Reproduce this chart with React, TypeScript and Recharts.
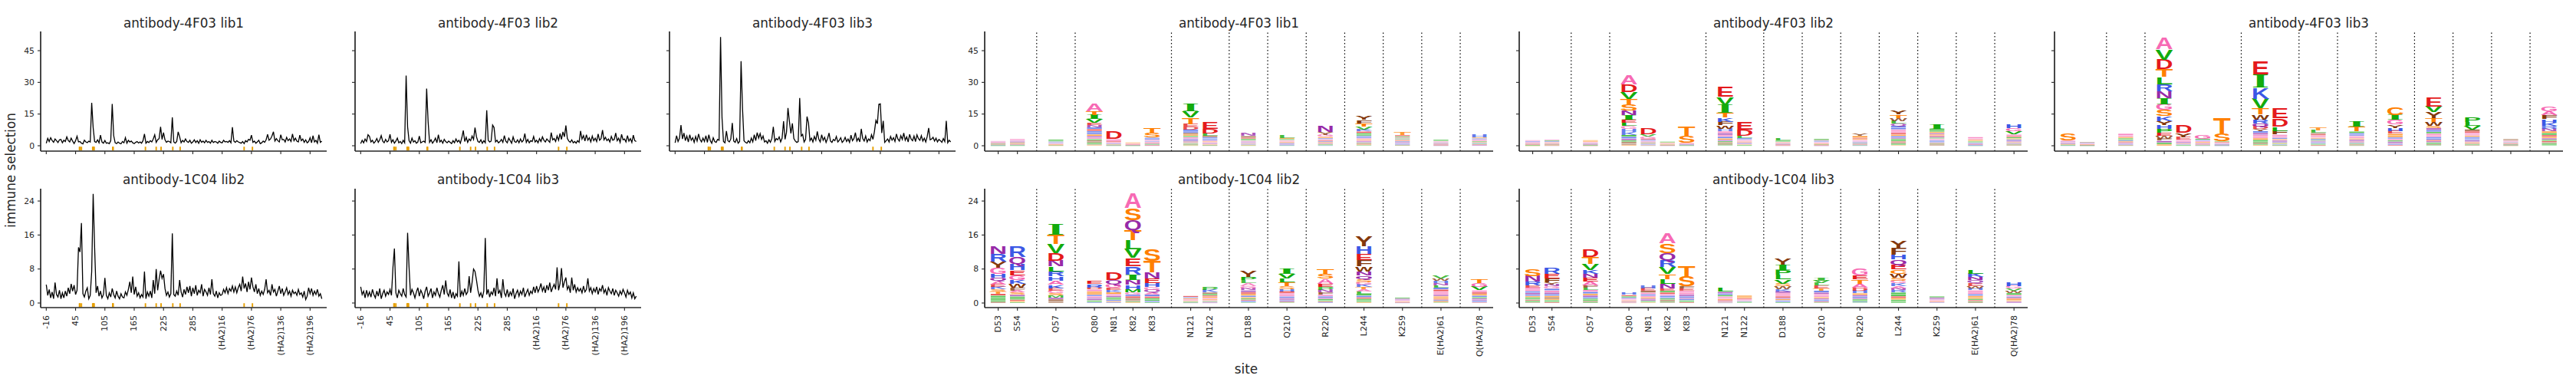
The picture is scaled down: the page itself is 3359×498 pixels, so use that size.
import React from "react";
import {
  LineChart,
  Line,
  BarChart,
  Bar,
  XAxis,
  YAxis,
  ReferenceArea,
  ReferenceLine,
} from "recharts";

const INK = "#262626";
const FONT = "DejaVu Sans, sans-serif";
const LETTER_FONT = "Liberation Sans, Arial, sans-serif";
const SERIF_FONT = "Liberation Serif, serif";

// ---------- line plots: immune selection along HA, every 3rd site ----------
const SITE_STEP = 3;
const lineTicks = [0, 60, 120, 180, 240, 300, 360, 420, 480, 540];
const lineTickLabels = ["-16", "45", "105", "165", "225", "285", "(HA2)16", "(HA2)76", "(HA2)136", "(HA2)196"];
// sequential index of the sites shown in the logo plots (orange marks)
const zoomedSiteIndex = [68, 69, 72, 95, 96, 97, 98, 136, 137, 203, 225, 235, 259, 274, 405, 422];

const topTicks = [0, 15, 30, 45];
const bottomTicks = [0, 8, 16, 24];

const sel4F03lib1 = [
  1.2, 3.5, 2.0, 3.8, 2.5, 1.6, 3.2, 2.4, 1.5, 2.8,
  3.0, 1.4, 2.6, 2.0, 4.2, 2.5, 1.8, 3.6, 2.2, 1.0,
  2.4, 4.5, 1.8, 2.0, 1.2, 0.9, 2.6, 1.8, 1.5, 2.2,
  1.8, 20.3, 8.5, 2.0, 1.6, 2.8, 1.4, 5.0, 1.8, 1.2,
  2.5, 1.2, 1.4, 1.0, 2.4, 19.8, 4.8, 1.4, 1.0, 1.8,
  1.2, 0.9, 2.0, 1.4, 3.8, 1.2, 2.6, 1.8, 2.2, 1.4,
  1.0, 1.6, 2.0, 1.3, 1.8, 1.2, 2.4, 5.6, 1.2, 2.0,
  1.5, 2.4, 1.8, 3.2, 5.2, 1.6, 2.8, 3.4, 9.0, 3.0,
  6.2, 2.8, 1.6, 2.2, 2.0, 1.4, 13.4, 1.8, 1.2, 2.0,
  6.6, 4.2, 1.4, 2.5, 1.8, 3.2, 2.0, 1.6, 2.6, 1.2,
  1.8, 2.8, 1.5, 2.4, 1.2, 2.8, 1.6, 2.2, 1.4, 2.6,
  1.6, 2.0, 1.2, 2.6, 1.5, 2.0, 1.8, 1.2, 2.2, 1.6,
  1.4, 2.6, 1.8, 2.0, 1.6, 2.4, 1.4, 8.8, 2.2, 1.6,
  2.4, 1.8, 1.5, 1.2, 2.0, 1.0, 2.4, 1.8, 3.0, 2.6,
  5.0, 1.6, 2.2, 1.2, 1.8, 2.6, 1.0, 1.4, 2.2, 1.6,
  2.8, 5.4, 2.6, 3.2, 4.6, 6.6, 2.2, 3.4, 2.4, 1.8,
  5.2, 2.8, 3.0, 1.8, 4.0, 2.4, 3.2, 2.0, 5.6, 2.4,
  3.6, 2.2, 1.8, 5.0, 2.4, 3.2, 1.6, 2.8, 1.4, 2.0,
  3.8, 1.4, 4.8, 1.8, 2.6, 1.2, 5.2, 1.6, 2.2,
];

const sel4F03lib2 = [
  1.0, 2.6, 1.4, 3.2, 2.0, 5.2, 4.4, 1.8, 2.6, 1.2,
  2.0, 3.4, 1.6, 2.8, 4.8, 2.2, 1.4, 3.0, 1.8, 2.4,
  5.4, 1.6, 2.8, 1.2, 2.2, 3.6, 1.4, 2.0, 1.0, 2.6,
  1.4, 33.2, 9.0, 2.4, 1.2, 3.6, 1.8, 2.4, 1.2, 1.8,
  4.6, 1.4, 1.8, 2.2, 1.6, 27.0, 11.4, 1.6, 2.8, 1.2,
  2.2, 3.6, 1.4, 5.2, 1.8, 2.6, 1.2, 3.0, 2.0, 1.4,
  2.2, 1.6, 1.0, 2.4, 1.4, 3.2, 1.8, 2.6, 1.2, 3.8,
  7.2, 2.0, 4.0, 1.6, 3.2, 2.4, 4.6, 3.0, 8.6, 4.2,
  2.0, 1.6, 2.8, 1.2, 2.4, 1.4, 16.8, 2.6, 1.8, 2.2,
  9.8, 8.6, 1.8, 2.6, 1.4, 2.0, 3.0, 1.6, 4.8, 2.2,
  1.4, 3.6, 2.4, 1.2, 4.2, 2.0, 1.6, 2.8, 1.4, 3.2,
  1.8, 2.6, 5.8, 1.6, 3.0, 1.4, 2.4, 2.0, 4.4, 1.8,
  2.6, 1.4, 3.4, 2.0, 4.2, 2.6, 1.8, 3.2, 2.4, 1.6,
  6.2, 2.8, 3.4, 2.0, 4.6, 2.6, 5.8, 3.0, 6.6, 4.2,
  9.6, 3.4, 2.2, 1.6, 2.8, 1.4, 2.0, 1.2, 2.4, 1.6,
  7.0, 3.2, 4.8, 2.2, 5.2, 2.6, 3.8, 1.8, 4.6, 2.4,
  3.6, 2.0, 5.6, 2.6, 3.4, 7.4, 2.8, 4.0, 2.4, 3.2,
  1.8, 4.4, 2.6, 3.0, 6.0, 2.4, 3.6, 1.6, 5.4, 2.8,
  3.2, 1.8, 4.8, 2.2, 3.4, 1.6, 5.0, 2.4, 2.0,
];

const sel4F03lib3 = [
  1.4, 4.8, 2.0, 3.6, 9.8, 3.2, 6.0, 2.4, 4.6, 1.8,
  5.2, 2.6, 3.8, 1.6, 4.4, 2.2, 5.6, 3.0, 1.8, 3.6,
  2.0, 4.8, 1.6, 5.2, 2.4, 1.2, 3.8, 2.0, 1.6, 3.0,
  2.6, 51.5, 13.2, 2.0, 1.4, 7.0, 2.4, 1.8, 3.2, 10.8,
  2.2, 1.6, 3.4, 1.2, 2.0, 40.0, 17.4, 2.4, 1.6, 1.2,
  2.4, 1.4, 3.6, 1.8, 5.2, 2.4, 6.2, 3.6, 5.8, 3.0,
  4.6, 1.8, 2.4, 1.2, 2.8, 1.6, 3.4, 9.0, 2.0, 3.4,
  2.8, 4.2, 1.8, 3.6, 11.6, 3.0, 6.4, 17.9, 11.4, 5.8,
  10.6, 3.4, 2.2, 1.6, 2.0, 22.6, 4.6, 5.4, 1.8, 3.0,
  13.8, 10.8, 2.4, 3.6, 1.8, 4.4, 2.6, 6.8, 3.2, 1.8,
  5.2, 2.6, 4.0, 1.6, 3.4, 6.0, 2.2, 1.6, 3.0, 2.4,
  4.4, 1.8, 2.6, 3.8, 1.6, 2.4, 4.0, 2.0, 3.2, 1.6,
  5.0, 2.4, 3.4, 6.2, 2.2, 3.6, 1.8, 8.0, 3.4, 2.2,
  4.6, 1.8, 3.2, 2.4, 5.2, 3.0, 6.8, 12.0, 10.4, 19.6,
  19.8, 6.0, 11.8, 1.6, 2.4, 3.2, 1.8, 4.4, 2.6, 3.8,
  2.0, 5.6, 3.2, 2.2, 4.8, 3.0, 6.0, 2.6, 4.2, 1.8,
  5.4, 3.2, 2.4, 4.6, 2.0, 5.2, 3.4, 2.6, 4.8, 2.2,
  3.6, 1.8, 4.4, 8.4, 2.8, 3.2, 4.0, 2.2, 3.6, 1.8,
  3.0, 2.4, 1.6, 3.4, 2.0, 11.8, 1.4, 2.6, 1.8,
];

const sel1C04lib2 = [
  4.3, 1.8, 3.2, 1.2, 2.6, 1.0, 4.8, 2.0, 1.4, 3.0,
  1.0, 2.4, 1.2, 2.8, 1.6, 3.6, 2.2, 4.5, 2.8, 4.2,
  2.0, 3.0, 13.1, 12.0, 18.8, 2.2, 1.4, 2.8, 3.6, 1.0,
  1.8, 7.4, 25.7, 13.0, 2.4, 4.0, 1.6, 2.8, 1.2, 2.0,
  5.9, 1.8, 1.0, 2.4, 1.4, 3.4, 2.0, 1.2, 2.8, 1.6,
  1.0, 2.2, 1.4, 1.2, 2.6, 1.8, 3.2, 5.0, 2.4, 6.2,
  2.0, 3.8, 1.6, 2.4, 1.2, 2.0, 1.4, 7.4, 1.0, 2.6,
  1.6, 2.8, 1.2, 5.4, 2.2, 8.0, 3.0, 5.6, 7.6, 5.8,
  6.8, 3.4, 1.8, 2.6, 1.4, 2.2, 16.4, 2.0, 1.6, 2.8,
  1.8, 5.4, 2.6, 1.4, 3.2, 2.0, 3.8, 2.4, 4.0, 1.6,
  3.6, 2.2, 4.2, 1.8, 3.0, 2.4, 4.4, 1.6, 3.2, 2.6,
  1.8, 3.6, 2.0, 5.6, 2.2, 1.6, 2.8, 1.2, 2.4, 1.8,
  2.0, 3.2, 2.4, 3.6, 2.2, 3.4, 2.8, 4.0, 2.6, 3.8,
  2.4, 3.6, 4.4, 2.8, 6.2, 3.4, 4.6, 2.6, 5.0, 3.2,
  6.0, 3.8, 2.6, 4.4, 2.2, 3.4, 1.8, 2.8, 2.0, 3.2,
  5.6, 2.4, 3.0, 1.8, 4.4, 2.6, 3.2, 1.6, 2.8, 4.0,
  2.2, 3.4, 1.8, 2.6, 3.6, 2.0, 2.8, 1.6, 3.0, 2.2,
  2.6, 1.8, 3.2, 2.0, 2.4, 1.4, 2.8, 0.8, 1.6, 3.6,
  2.2, 3.4, 1.8, 2.8, 2.0, 3.2, 1.6, 2.2, 1.0,
];

const sel1C04lib3 = [
  3.8, 2.0, 2.8, 1.2, 3.0, 1.6, 2.6, 1.4, 3.2, 2.0,
  1.2, 2.8, 1.6, 3.4, 1.0, 2.2, 3.0, 1.6, 2.6, 2.0,
  3.2, 1.8, 8.3, 12.8, 2.4, 1.2, 3.0, 2.2, 1.6, 3.4,
  2.0, 1.4, 16.5, 8.4, 1.8, 3.2, 2.4, 1.2, 2.6, 3.6,
  1.6, 3.0, 2.2, 1.0, 2.8, 3.8, 1.6, 2.4, 3.4, 1.2,
  2.6, 1.8, 3.6, 2.2, 1.4, 3.0, 4.2, 2.0, 5.3, 2.4,
  1.6, 3.2, 1.2, 2.6, 1.0, 2.2, 1.6, 9.8, 1.4, 2.8,
  1.8, 3.4, 2.0, 2.6, 6.3, 2.4, 4.8, 8.0, 7.4, 5.4,
  3.0, 1.6, 2.4, 1.2, 2.8, 15.3, 2.0, 3.2, 1.4, 2.6,
  2.0, 3.6, 1.6, 5.8, 2.2, 3.0, 1.2, 5.6, 2.4, 1.6,
  3.2, 1.4, 2.6, 1.8, 3.4, 1.0, 2.2, 3.0, 1.6, 2.8,
  2.0, 3.6, 1.4, 2.4, 3.2, 1.8, 2.8, 2.2, 3.8, 2.4,
  4.0, 2.6, 3.4, 4.6, 2.8, 3.8, 2.4, 4.2, 3.0, 4.8,
  2.6, 3.6, 4.4, 3.2, 8.4, 3.0, 4.6, 8.2, 3.6, 5.0,
  6.0, 3.2, 4.0, 2.4, 6.0, 3.0, 4.4, 2.6, 3.6, 2.8,
  3.4, 2.4, 4.0, 2.6, 3.2, 5.8, 2.8, 3.6, 2.2, 3.4,
  2.6, 3.8, 2.0, 3.4, 2.8, 4.2, 2.4, 3.2, 1.8, 3.6,
  2.8, 2.2, 3.4, 1.8, 3.0, 2.4, 1.6, 2.8, 2.0, 3.2,
  2.4, 1.4, 3.0, 2.0, 2.6, 1.2, 2.4, 1.0, 1.6,
];

// ---------- logo plots: per-site amino-acid selection (letter + height) ----------
const logoSites = ["D53", "S54", "Q57", "Q80", "N81", "K82", "K83", "N121", "N122", "D188", "Q210", "R220", "L244", "K259", "E(HA2)61", "Q(HA2)78"];
const logoSlots = [0, 1, 3, 5, 6, 7, 8, 10, 11, 13, 15, 17, 19, 21, 23, 25];
const logoDividers = [2, 4, 9, 12, 14, 16, 18, 20, 22, 24];

const logo4F03lib1 = [
  "G.35 N.3 A.3 E.25 M.25 Q.2 S.2 V.2 K.15 L.1",
  "G.45 A.45 Q.4 N.35 W.3 F.3 S.25 E.25 K.2 V.2 L.15",
  "V.6 L.4 K.35 A.3 R.3 G.25 S.25 E.2 I.2 T.15",
  "A3.9 T1.8 I1.8 V1.8 E1.1 N1.1 R.9 D.9 K.8 H.8 S.8 Q.7 G.7 L.6 Y.6 F.5 P.5 M.4 W.3 C.3",
  "D3.6 G.9 E.5 A.4 Q.3 K.3 S.2 L.2 N.15 V.15",
  "S.3 T.25 A.25 G.2 E.2 Q.15 V.15 L.1",
  "T2.4 S2.4 H.6 K.5 A.5 R.4 G.4 E.3 N.3 V.3 L.2 D.2 Q.2",
  "I3.6 V3.0 T3.0 E1.3 D1.2 K.9 R.8 W.7 S.7 L.6 A.6 N.5 H.5 Q.5 Y.4 G.4 M.4 F.3 P.3 C.2",
  "E3.4 D2.3 L1.0 W.7 K.6 R.5 H.5 A.4 S.4 G.4 Q.3 N.3 T.3 V.2 Y.2",
  "N1.2 Y.7 E.6 L.5 V.4 G.4 Q.4 A.35 K.3 S.3 H.25 T.2 M.2",
  "L1.3 T.6 V.5 A.4 G.4 S.35 E.3 K.3 R.3 N.25 H.2 M.2",
  "N2.7 Y1.2 G1.0 T.6 K.5 A.5 E.4 H.4 S.4 Q.3 D.3 L.3 V.3 R.2",
  "Y1.8 F1.6 T1.5 V1.4 K1.0 E.8 L.7 I.6 R.6 H.5 A.5 S.5 G.4 N.4 Q.3 M.3 D.3 W.3 C.3 P.3",
  "T1.2 E.6 L.5 G.5 V.5 A.45 S.4 K.4 N.35 Q.3 H.3 R.3 D.25 M.25",
  "V.45 L.35 G.35 A.3 K.3 S.25 Q.25 N.2 T.2 E.2 H.15",
  "H1.2 T.5 K.5 A.45 G.4 V.4 S.35 R.35 L.3 E.25 N.25 Q.25",
];

const logo4F03lib2 = [
  "G.45 K.4 A.4 Q.3 S.3 N.25 E.2 V.2 L.1 T.1",
  "G.45 V.4 K.4 A.35 S.3 Q.3 E.25 L.2 T.2 N.15",
  "T.45 S.4 A.35 G.3 K.3 E.25 N.2 V.2 L.15 D.1",
  "A4.2 D3.6 V3.2 T2.7 S2.6 N2.4 I1.9 E1.6 L1.6 G1.4 H1.4 K1.3 P.9 R.9 Q.8 M.7 F.6 Y.5 W.4 C.4",
  "D2.8 V1.1 G1.0 E.5 K.5 A.4 Q.4 S.3 L.3 N.3 H.3 T.2 R.2",
  "L.45 S.3 A.3 G.25 T.2 V.2 E.15 Q.15",
  "T4.5 S3.3 A.3 G.25 E.25 K.2 N.2 L.15 V.15",
  "E5.0 V3.8 I3.8 T2.2 K2.0 F1.7 W1.6 H1.2 A.9 Q.9 G.8 R.8 S.7 N.6 L.6 D.5 M.4 Y.4 P.3",
  "E3.9 D3.0 L1.0 K.5 H.4 A.4 G.4 S.4 Q.3 N.3 R.3 T.3 V.2 M.2",
  "L1.0 V.4 I.35 A.3 S.3 G.25 K.25 E.2 Q.2 T.2 N.15",
  "V.55 W.35 K.35 H.3 A.3 G.3 S.25 E.25 L.2 T.2 N.15 Q.1",
  "Y1.0 T.9 E.5 S.5 A.45 G.4 K.35 Q.3 L.3 N.3 D.25 V.25 R.2",
  "Y2.0 T1.6 W1.4 L1.3 Q1.0 K.9 H.9 G.8 A.8 E.8 S.7 R.7 N.6 I.6 V.6 D.5 F.5 M.4 P.4 C.3",
  "I2.2 P.8 L.7 T.6 N.6 S.5 E.5 Q.5 V.5 A.4 G.4 K.4 H.4 R.3 D.3 M.3 F.3 Y.3 W.3",
  "G.8 A.5 T.4 S.35 L.35 V.3 K.3 Q.3 N.25 E.2 H.2 R.15 M.1",
  "H1.7 G1.6 V1.5 A.7 E.6 L.6 S.5 K.5 N.4 Q.4 T.4 R.4 D.3 M.3 Y.3",
];

const logo4F03lib3 = [
  "S3.2 G.4 N.35 A.35 Q.3 K.25 E.25 T.2 V.2 L.15 H.15",
  "W.35 K.3 A.25 G.2 S.2 E.15 V.15 N.1 L.1",
  "A.9 G.7 S.6 L.5 V.5 K.45 T.4 E.35 N.35 Q.3 R.3 D.25 I.2",
  "A5.6 V4.9 D4.6 T3.7 L3.5 R3.4 N3.2 I2.8 G2.7 S2.6 K2.5 Y2.0 H1.8 P1.7 E1.5 W1.4 F1.0 Q.9 M.8 C.7",
  "D3.6 Y2.0 E1.2 G.6 A.5 Q.4 N.4 S.3 K.3 L.2 V.2",
  "G2.1 V.6 K.5 A.5 S.4 E.3 Q.3 N.25 T.25 L.15 R.15",
  "T7.7 S3.6 L.4 E.4 A.3 G.3 K.25 N.2 V.2 Q.15 R.1",
  "E6.4 I6.0 K5.4 V4.6 T2.9 W2.4 R1.7 Q1.5 D1.2 Y1.0 H.9 N.9 A.8 G.8 S.8 L.7 M.6 F.6 P.5 C.4",
  "E5.0 D4.0 L1.9 F1.7 G.8 A.7 K.6 S.5 Q.5 N.4 R.4 T.4 V.3 H.3 M.2 Y.2",
  "T1.3 L1.2 F.6 E.6 A.6 G.5 S.5 K.5 V.4 Q.4 N.4 H.3 R.3 I.3 M.3 D.2 Y.2",
  "I2.4 T2.3 L.8 H.7 K.6 A.6 G.6 S.5 N.5 Q.5 E.4 R.4 V.4 D.3 M.3 Y.2",
  "C3.6 I2.4 G2.2 Y1.6 H1.5 E1.2 T.9 S.8 K.7 A.7 L.6 N.6 Q.5 R.5 D.4",
  "E4.2 V2.7 Y2.6 T2.1 W1.7 S1.0 N.9 K.9 L.8 G.8 A.8 R.7 H.7 D.6 Q.6 I.5 M.4 F.4 P.3",
  "P2.4 L1.8 V1.7 Y.9 E.8 A.7 G.6 S.6 K.6 R.5 H.5 N.5 Q.4 T.4 D.4 I.3 M.3 F.3",
  "W.45 F.35 G.35 A.3 K.3 S.3 Q.25 E.25 L.2 V.2 N.15 T.1",
  "G2.3 A2.1 F1.8 H1.6 K1.5 R1.4 N1.2 T.9 L.9 E.8 S.7 Q.7 V.6 D.6 Y.5 M.5 I.4 P.3",
];

const logo1C04lib2 = [
  "N1.8 R1.8 Y1.5 G1.4 H.9 Q.8 A.8 E.6 K.6 S.5 T.5 D.45 V.4 L.4 M.35 I.3 F.3",
  "R2.5 Q1.6 H1.5 E1.2 G1.1 K.95 W.9 F.6 A.5 S.5 N.4 L.4 V.35 D.3 T.3 M.2",
  "I2.4 T2.2 V2.1 D1.9 N1.3 L1.15 R1.1 H1.05 A1.0 K.8 E.6 G.6 S.5 M.5 Q.4 Y.4 F.3 W.2",
  "E.8 R.75 D.5 G.45 S.4 T.4 K.35 A.35 N.3 Q.3 V.25 L.2 H.2",
  "D1.9 Q1.0 G.85 E.55 K.5 S.45 A.4 N.35 V.3 L.3 H.3 T.25 R.2",
  "A3.6 S2.9 Q2.35 T2.3 L2.1 V2.05 E2.0 R1.95 I1.3 N1.1 H1.0 M.8 G.5 K.4 D.4 Y.3 F.3 W.2 P.2 C.2",
  "S2.8 T2.75 N1.4 E1.1 H.95 G.7 Q.6 A.5 K.45 D.4 L.35 V.3 R.3 M.2",
  "E.3 K.25 T.25 A.2 G.2 S.15 V.15 L.1 Q.1",
  "P.7 K.6 W.35 L.35 E.3 T.3 A.3 S.25 G.2 V.2 Q.15 N.1",
  "Y1.3 P.75 L.7 A.6 G.55 N.5 Q.45 E.4 S.4 K.35 T.3 V.3 D.25 H.2 R.2 M.15",
  "I1.15 V1.1 L1.0 T.9 S.65 H.5 E.45 A.4 G.4 K.35 N.3 Q.3 R.25 D.2 M.15",
  "T1.25 S1.2 A1.15 E.75 P.7 N.65 F.5 G.4 K.35 Q.3 L.3 V.25 D.2 H.2",
  "Y2.4 H1.9 E1.45 F1.4 W1.2 N1.0 Q.8 S.7 G.6 K.6 T.55 A.5 L.5 V.45 R.4 D.35 M.3 I.3 P.2 C.2",
  "L.25 Q.2 N.2 A.15 G.15 S.15 E.1 K.1",
  "V.7 W.55 H.55 N.5 L.5 K.45 E.45 G.4 A.4 Q.35 S.3 T.3 D.25 R.2 F.2 C.2 M.15",
  "T.9 G.88 V.85 A.45 E.4 S.4 K.35 L.3 N.3 Q.25 H.2 R.2 D.15",
];

const logo1C04lib3 = [
  "S1.6 N1.3 R.85 E.5 A.45 G.45 K.4 Q.4 H.35 T.3 V.3 L.25 D.25 M.2 I.2 F.15",
  "R1.3 E1.1 F.9 Y.55 N.5 G.5 K.45 A.45 Q.4 H.4 S.35 W.35 T.3 L.25 V.25 D.2",
  "D1.9 T1.6 V1.5 K.95 N.9 E.88 A.85 F.55 L.5 G.45 R.45 S.4 Q.4 H.35 M.3 I.3 Y.25 P.2",
  "H.5 E.3 L.3 K.25 A.25 G.2 S.2 Q.15 N.15 T.1",
  "H.7 E.6 W.45 A.4 K.35 G.35 S.3 Q.3 N.25 L.2 V.15 T.15",
  "A2.3 S2.2 Q1.7 R1.65 V1.6 T1.2 L1.15 N1.1 E.5 M.4 D.4 G.35 K.35 H.3 I.3 Y.25 F.2 P.2 W.15",
  "T2.5 S2.3 F.55 E.5 G.45 A.4 N.4 K.35 Q.3 R.3 L.25 V.2 D.2",
  "L.95 N.4 K.35 V.35 A.3 G.3 S.25 E.25 Q.2 T.15 H.1",
  "T.35 S.3 E.25 A.25 G.2 K.15 L.15 V.15",
  "Y1.3 I1.2 P1.15 L1.1 V1.0 S.65 W.6 K.5 N.45 A.4 G.35 E.35 Q.3 T.3 H.25 R.2 M.2",
  "I.65 V.62 L.6 E.58 T.55 K.45 N.4 A.35 G.35 S.3 Q.3 H.25 R.2 D.2 M.15",
  "G1.6 E1.0 T.97 A.95 D.7 H.65 S.4 N.35 K.35 Q.3 L.3 V.25 R.2 M.15",
  "Y1.6 F1.55 H1.2 Q1.15 E1.1 C1.05 W1.0 S.7 G.6 K.6 A.55 N.5 R.5 L.45 V.45 D.4 T.4 M.3 I.3 P.2",
  "L.3 N.3 Q.2 A.2 G.15 S.15 E.15 K.15",
  "L.9 K.85 N.75 Q.7 E.6 W.55 H.5 G.45 A.45 R.4 S.35 T.35 V.3 D.3 M.2 F.2",
  "H.85 G.6 V.55 W.5 L.45 A.35 K.3 E.3 S.3 T.25 Q.2 N.2",
];

// functional-group colours
const AA_COLORS: Record<string, string> = {
  A: "#f76ab4", G: "#f76ab4",
  S: "#ff7f00", T: "#ff7f00", C: "#ff7f00",
  V: "#12ab0d", L: "#12ab0d", I: "#12ab0d", M: "#12ab0d", P: "#12ab0d",
  F: "#84380b", W: "#84380b", Y: "#84380b",
  D: "#e41a1c", E: "#e41a1c",
  N: "#972aa8", Q: "#972aa8",
  H: "#3c58e5", K: "#3c58e5", R: "#3c58e5",
};

// ---------- layout ----------
type Row = {
  plotTop: number;
  plotH: number;
  titleY: number;
  domain: [number, number];
  ticks: number[];
  mark: [number, number];
  xLabels: boolean;
};

const TOP: Row = { plotTop: 41, plotH: 156, titleY: 30, domain: [-2.54, 54.1], ticks: topTicks, mark: [-2.2, -0.45], xLabels: false };
const BOTTOM: Row = { plotTop: 246, plotH: 155, titleY: 234, domain: [-1.08, 26.9], ticks: bottomTicks, mark: [-0.95, -0.05], xLabels: true };

const Y_W = 40;
const M_TOP = 6;
const M_RIGHT = 6;
const X_H = 90;
const LINE_W = 373;
const LOGO_W = 663;

const axisLine = { stroke: INK, strokeWidth: 1.7 };
const tickLine = { stroke: INK, strokeWidth: 1.1 };

// x tick label, rotated; nothing at all when the row hides its labels
function RotatedTick(props: any) {
  const { x, y, payload, show, fmt } = props;
  if (!show) return <g />;
  return (
    <text
      x={x}
      y={y}
      transform={`rotate(-90 ${x} ${y})`}
      textAnchor="end"
      dominantBaseline="central"
      fontSize={11}
      fontFamily={FONT}
      fill={INK}
    >
      {fmt(payload.value)}
    </text>
  );
}

function ValueTick(props: any) {
  const { x, y, payload, show } = props;
  if (!show) return <g />;
  return (
    <text x={x} y={y} textAnchor="end" dominantBaseline="central" fontSize={10.8} fontFamily={FONT} fill={INK}>
      {payload.value}
    </text>
  );
}

function Title({ left, width, y, text }: { left: number; width: number; y: number; text: string }) {
  return (
    <div
      style={{
        position: "absolute",
        left,
        width,
        top: y - 11,
        lineHeight: "22px",
        textAlign: "center",
        fontFamily: FONT,
        fontSize: 16.8,
        color: INK,
        whiteSpace: "nowrap",
      }}
    >
      {text}
    </div>
  );
}

function SelectionPanel({ values, left, row, title, yLabels }: { values: number[]; left: number; row: Row; title: string; yLabels: boolean }) {
  const data = values.map((v, k) => ({ idx: k * SITE_STEP, sel: v }));
  return (
    <>
      <div style={{ position: "absolute", left: left - Y_W, top: row.plotTop - M_TOP }}>
        <LineChart
          width={Y_W + LINE_W + M_RIGHT}
          height={M_TOP + row.plotH + X_H}
          data={data}
          margin={{ top: M_TOP, right: M_RIGHT, left: 0, bottom: 0 }}
        >
          <XAxis
            type="number"
            dataKey="idx"
            domain={[-11.5, 574]}
            allowDataOverflow
            ticks={lineTicks}
            interval={0}
            height={X_H}
            axisLine={axisLine}
            tickLine={tickLine}
            tickSize={4}
            tickMargin={6}
            tick={<RotatedTick show={row.xLabels} fmt={(v: number) => lineTickLabels[lineTicks.indexOf(v)]} />}
          />
          <YAxis
            type="number"
            domain={row.domain}
            allowDataOverflow
            ticks={row.ticks}
            interval={0}
            width={Y_W}
            axisLine={axisLine}
            tickLine={tickLine}
            tickSize={4}
            tickMargin={4}
            tick={<ValueTick show={yLabels} />}
          />
          {zoomedSiteIndex.map((i) => (
            <ReferenceArea
              key={i}
              x1={i - 1.5}
              x2={i + 1.5}
              y1={row.mark[0]}
              y2={row.mark[1]}
              fill="#E69F00"
              fillOpacity={1}
              stroke="none"
            />
          ))}
          <Line
            type="linear"
            dataKey="sel"
            stroke="#000"
            strokeWidth={1.3}
            dot={false}
            isAnimationActive={false}
          />
        </LineChart>
      </div>
      <Title left={left} width={LINE_W} y={row.titleY} text={title} />
    </>
  );
}

function parseStack(s: string) {
  // written top-down; returned bottom-up, smallest letters at the bottom
  return s
    .trim()
    .split(/\s+/)
    .map((t) => ({ aa: t[0], h: parseFloat(t.slice(1)) }))
    .reverse()
    .sort((a, b) => a.h - b.h);
}

const MAX_LAYERS = 20;
const layers = Array.from({ length: MAX_LAYERS }, (_, k) => k);

function logoData(stacks: string[]) {
  return stacks.map((s, i) => {
    const parsed = parseStack(s);
    const row: Record<string, number | string> = { slot: logoSlots[i] };
    layers.forEach((k) => {
      row[`h${k}`] = parsed[k] ? parsed[k].h : 0;
      row[`a${k}`] = parsed[k] ? parsed[k].aa : "";
    });
    return row;
  });
}

// a letter stretched into its stack cell; cells too thin to read become colour streaks
function makeGlyph(k: number) {
  return (p: any) => {
    const aa = p.payload ? p.payload[`a${k}`] : "";
    const h = Math.abs(p.height || 0);
    if (!aa || h < 0.25) return <g />;
    const top = p.height >= 0 ? p.y : p.y + p.height;
    const color = AA_COLORS[aa];
    if (h < 2.5) {
      return (
        <rect
          x={p.x + p.width * 0.08}
          y={top + h * 0.15}
          width={p.width * 0.84}
          height={Math.max(h * 0.7, 0.6)}
          fill={color}
          fillOpacity={0.35 + h * 0.18}
        />
      );
    }
    const serif = aa === "I";
    const capH = serif ? 0.662 : 0.716;
    const op = h >= 4 ? 1 : 0.8;
    return (
      <text
        x={p.x}
        y={top + h}
        fontSize={h / capH}
        fontFamily={serif ? SERIF_FONT : LETTER_FONT}
        fontWeight="bold"
        fill={color}
        fillOpacity={op}
        textLength={p.width}
        lengthAdjust="spacingAndGlyphs"
      >
        {aa}
      </text>
    );
  };
}

const glyphShapes = layers.map((k) => makeGlyph(k));

function LogoPanel({ stacks, left, row, title, yLabels }: { stacks: string[]; left: number; row: Row; title: string; yLabels: boolean }) {
  const data = logoData(stacks);
  return (
    <>
      <div style={{ position: "absolute", left: left - Y_W, top: row.plotTop - M_TOP }}>
        <BarChart
          width={Y_W + LOGO_W + M_RIGHT}
          height={M_TOP + row.plotH + X_H}
          data={data}
          margin={{ top: M_TOP, right: M_RIGHT, left: 0, bottom: 0 }}
          barGap={0}
        >
          <XAxis
            type="number"
            dataKey="slot"
            domain={[-0.7, 25.71]}
            allowDataOverflow
            ticks={logoSlots}
            interval={0}
            height={X_H}
            axisLine={axisLine}
            tickLine={tickLine}
            tickSize={4}
            tickMargin={6}
            tick={<RotatedTick show={row.xLabels} fmt={(v: number) => logoSites[logoSlots.indexOf(v)]} />}
          />
          <YAxis
            type="number"
            domain={row.domain}
            allowDataOverflow
            ticks={row.ticks}
            interval={0}
            width={Y_W}
            axisLine={axisLine}
            tickLine={tickLine}
            tickSize={4}
            tickMargin={4}
            tick={<ValueTick show={yLabels} />}
          />
          {logoDividers.map((g) => (
            <ReferenceLine key={g} x={g} stroke="#000" strokeWidth={1.2} strokeDasharray="1.5 3" />
          ))}
          {layers.map((k) => (
            <Bar
              key={k}
              dataKey={`h${k}`}
              stackId="aa"
              barSize={23}
              shape={glyphShapes[k]}
              isAnimationActive={false}
            />
          ))}
        </BarChart>
      </div>
      <Title left={left} width={LOGO_W} y={row.titleY} text={title} />
    </>
  );
}

export default function App() {
  return (
    <div style={{ position: "absolute", left: 0, top: 0, width: 3359, height: 498, background: "#fff" }}>
      <SelectionPanel values={sel4F03lib1} left={53} row={TOP} title="antibody-4F03 lib1" yLabels />
      <SelectionPanel values={sel4F03lib2} left={463} row={TOP} title="antibody-4F03 lib2" yLabels={false} />
      <SelectionPanel values={sel4F03lib3} left={873} row={TOP} title="antibody-4F03 lib3" yLabels={false} />
      <SelectionPanel values={sel1C04lib2} left={53} row={BOTTOM} title="antibody-1C04 lib2" yLabels />
      <SelectionPanel values={sel1C04lib3} left={463} row={BOTTOM} title="antibody-1C04 lib3" yLabels={false} />

      <LogoPanel stacks={logo4F03lib1} left={1284} row={TOP} title="antibody-4F03 lib1" yLabels />
      <LogoPanel stacks={logo4F03lib2} left={1981} row={TOP} title="antibody-4F03 lib2" yLabels={false} />
      <LogoPanel stacks={logo4F03lib3} left={2679} row={TOP} title="antibody-4F03 lib3" yLabels={false} />
      <LogoPanel stacks={logo1C04lib2} left={1284} row={BOTTOM} title="antibody-1C04 lib2" yLabels />
      <LogoPanel stacks={logo1C04lib3} left={1981} row={BOTTOM} title="antibody-1C04 lib3" yLabels={false} />

      <div
        style={{
          position: "absolute",
          left: 14 - 100,
          top: 222 - 11,
          width: 200,
          lineHeight: "22px",
          textAlign: "center",
          transform: "rotate(-90deg)",
          fontFamily: FONT,
          fontSize: 16.8,
          color: INK,
        }}
      >
        immune selection
      </div>
      <div
        style={{
          position: "absolute",
          left: 1625 - 50,
          top: 481 - 11,
          width: 100,
          lineHeight: "22px",
          textAlign: "center",
          fontFamily: FONT,
          fontSize: 16.8,
          color: INK,
        }}
      >
        site
      </div>
    </div>
  );
}
